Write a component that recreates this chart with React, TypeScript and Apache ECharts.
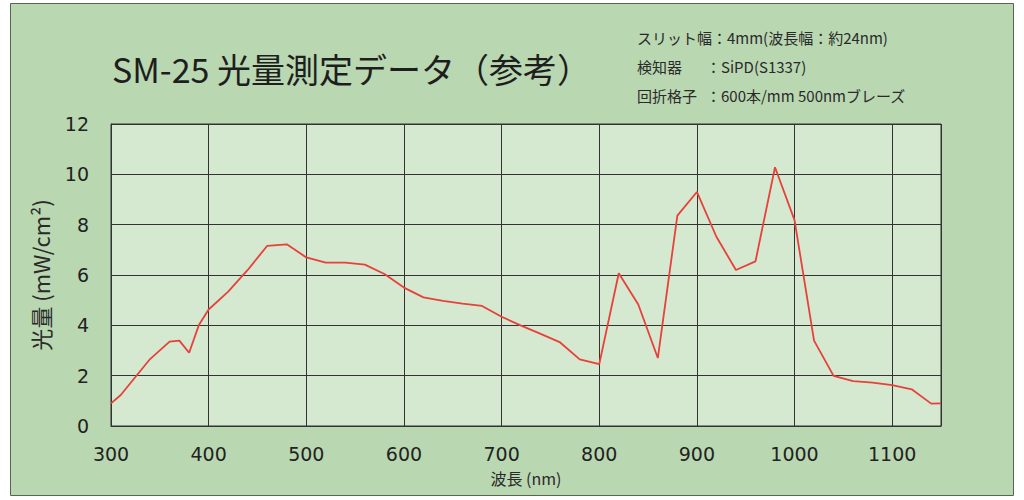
import React, { useEffect, useRef } from "react";
import * as echarts from "echarts";

const TITLE = "SM-25 光量測定データ（参考）";
const NOTE_LINE1 = "スリット幅：4mm(波長幅：約24nm)";
const NOTE_LABELS = ["検知器", "回折格子"];
const NOTE_VALUES = ["：SiPD(S1337)", "：600本/mm 500nmブレーズ"];
const X_NAME = "波長 (nm)";
const Y_NAME = "光量 (mW/cm²)";

const wavelengths = [
  300, 310, 340, 360, 370, 380, 390, 400, 420, 440, 460, 480, 500, 520, 540, 560, 580,
  600, 620, 640, 660, 680, 700, 720, 740, 760, 780, 800, 820, 840, 860, 880, 900, 920,
  940, 960, 980, 1000, 1020, 1040, 1060, 1080, 1100, 1120, 1140, 1150,
];
const intensity = [
  0.9, 1.23, 2.66, 3.35, 3.39, 2.91, 4.01, 4.63, 5.34, 6.2, 7.16, 7.22, 6.7, 6.49, 6.49,
  6.41, 6.04, 5.5, 5.11, 4.97, 4.86, 4.77, 4.34, 3.99, 3.66, 3.32, 2.65, 2.46, 6.07, 4.83,
  2.7, 8.36, 9.3, 7.52, 6.2, 6.54, 10.28, 8.18, 3.39, 1.99, 1.78, 1.72, 1.62, 1.46, 0.89, 0.9,
];

const FONT = "'Noto Sans CJK JP', 'Noto Sans', sans-serif";

export default function App() {
  const ref = useRef<HTMLDivElement>(null);
  useEffect(() => {
    if (!ref.current) return;
    const chart = echarts.init(ref.current, undefined, { renderer: "svg" });
    const data = wavelengths.map((w, i) => [w, intensity[i]]);
    const noteY = [66, 95];
    const noteStyle = { font: `15px ${FONT}`, fill: "#2a2a2a", verticalAlign: "middle" };
    chart.setOption({
      animation: false,
      backgroundColor: "#ffffff",
      textStyle: { fontFamily: FONT },
      graphic: [
        {
          type: "rect",
          z: -10,
          shape: { x: 10.5, y: 3.5, width: 1003, height: 492 },
          style: { fill: "#b9d7b1", stroke: "#55654f", lineWidth: 1 },
        },
        {
          type: "text",
          x: 112,
          y: 68,
          style: {
            text: TITLE,
            font: `34px ${FONT}`,
            fill: "#1e1e1e",
            verticalAlign: "middle",
            textAlign: "left",
          },
        },
        {
          type: "text",
          x: 637,
          y: 37,
          style: { ...noteStyle, text: NOTE_LINE1 },
        },
        ...NOTE_LABELS.map((t, i) => ({
          type: "text",
          x: 637,
          y: noteY[i],
          style: { ...noteStyle, text: t },
        })),
        ...NOTE_VALUES.map((t, i) => ({
          type: "text",
          x: 706,
          y: noteY[i],
          style: { ...noteStyle, text: t },
        })),
      ],
      grid: {
        left: 111,
        right: 83,
        top: 124,
        bottom: 74,
        show: true,
        backgroundColor: "#d5e8d0",
        borderColor: "#333",
        borderWidth: 1,
      },
      xAxis: {
        type: "value",
        min: 300,
        max: 1150,
        interval: 100,
        name: X_NAME,
        nameLocation: "middle",
        nameGap: 44,
        nameTextStyle: { fontSize: 16, color: "#2a2a2a", fontFamily: FONT },
        axisLine: { show: true, lineStyle: { color: "#333" } },
        axisTick: { show: false },
        axisLabel: {
          fontSize: 19,
          color: "#222",
          margin: 18,
          fontFamily: "Verdana, 'DejaVu Sans', sans-serif",
          formatter: (v: number) => (v > 1100 ? "" : String(v)),
        },
        splitLine: { show: true, lineStyle: { color: "#333", width: 1 } },
      },
      yAxis: {
        type: "value",
        min: 0,
        max: 12,
        interval: 2,
        name: Y_NAME,
        nameLocation: "middle",
        nameGap: 60,
        nameTextStyle: { fontSize: 22, color: "#2a2a2a", fontFamily: FONT },
        axisLine: { show: true, lineStyle: { color: "#333" } },
        axisTick: { show: false },
        axisLabel: {
          fontSize: 19,
          color: "#222",
          margin: 22,
          fontFamily: "Verdana, 'DejaVu Sans', sans-serif",
        },
        splitLine: { show: true, lineStyle: { color: "#333", width: 1 } },
      },
      series: [
        {
          type: "line",
          data,
          showSymbol: false,
          symbol: "none",
          lineStyle: { color: "#e8403a", width: 1.8 },
          itemStyle: { color: "#e8403a" },
        },
      ],
    });
    return () => chart.dispose();
  }, []);
  return (
    <div
      ref={ref}
      style={{ position: "fixed", left: 0, top: 0, width: 1024, height: 500 }}
    />
  );
}
